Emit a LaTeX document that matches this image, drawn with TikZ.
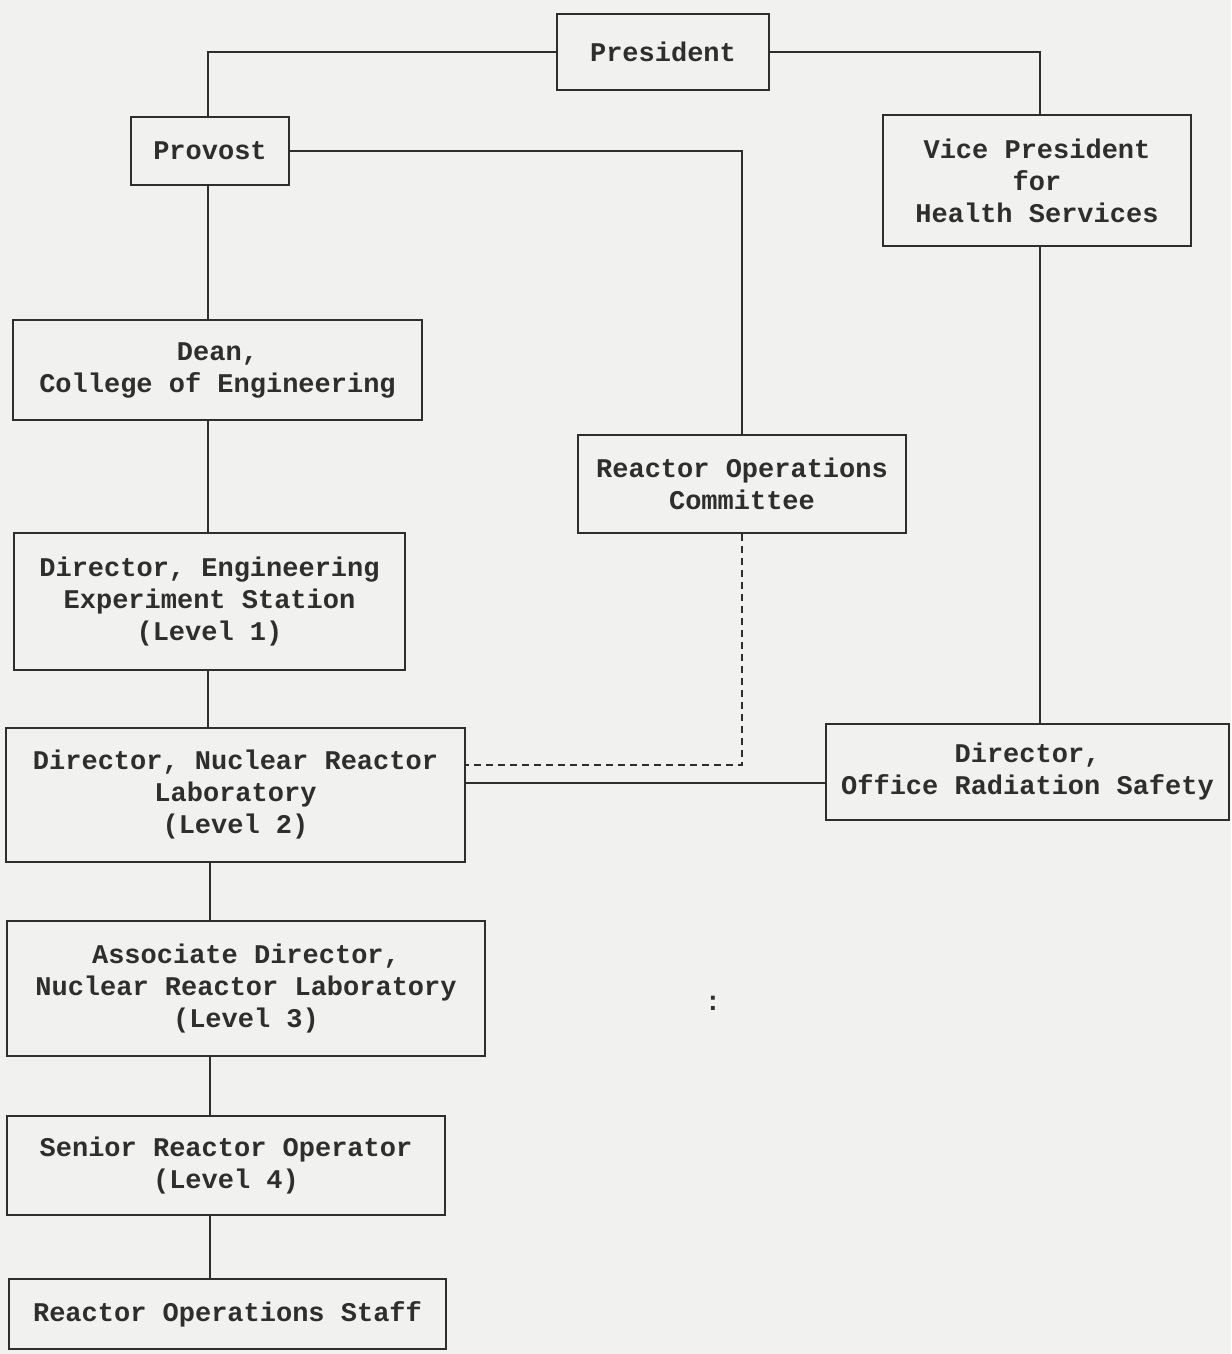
\documentclass[tikz,border=0pt]{standalone}
\usepackage{fontspec}
\setmonofont{Liberation Mono}
\definecolor{paper}{HTML}{F1F1EF}
\definecolor{ink}{HTML}{2E2E2E}
\begin{document}
\begin{tikzpicture}[x=1pt,y=-1pt,
  box/.style={draw=ink, line width=2.7pt, rectangle, align=center, text=ink,
    font=\ttfamily\bfseries\fontsize{27}{32}\selectfont, inner sep=0pt},
  link/.style={draw=ink, line width=2.7pt},
  dotlink/.style={draw=ink, line width=2.7pt, dash pattern=on 7pt off 5pt}]
\fill[paper] (0,0) rectangle (1231,1354);
\useasboundingbox (0,0) rectangle (1231,1354);

\node[box, minimum width=212pt, minimum height=76pt] (pres) at (663,52) {President};
\node[box, minimum width=158pt, minimum height=68pt] (prov) at (210,151) {Provost};
\node[box, minimum width=308pt, minimum height=131pt] (vp) at (1037,180.5) {Vice President\\for\\Health Services};
\node[box, minimum width=409pt, minimum height=100pt] (dean) at (217.5,370) {Dean,\\College of Engineering};
\node[box, minimum width=328pt, minimum height=98pt] (roc) at (742,484) {Reactor Operations\\Committee};
\node[box, minimum width=391pt, minimum height=137pt] (ees) at (209.5,601.5) {Director, Engineering\\Experiment Station\\(Level 1)};
\node[box, minimum width=459pt, minimum height=134pt] (dnrl) at (235.5,795) {Director, Nuclear Reactor\\Laboratory\\(Level 2)};
\node[box, minimum width=403pt, minimum height=96pt] (ors) at (1027.5,772) {Director,\\Office Radiation Safety};
\node[box, minimum width=478pt, minimum height=135pt] (assoc) at (246,988.5) {Associate Director,\\Nuclear Reactor Laboratory\\(Level 3)};
\node[box, minimum width=438pt, minimum height=99pt] (sro) at (226,1165.5) {Senior Reactor Operator\\(Level 4)};
\node[box, minimum width=437pt, minimum height=70pt] (ros) at (227.5,1314) {Reactor Operations Staff};
\node[text=ink, font=\ttfamily\bfseries\fontsize{27}{32}\selectfont] (colon) at (713,1003) {:};

\coordinate (lx) at (208,0);
\coordinate (lx2) at (210,0);
\coordinate (rx) at (1040,0);

\draw[link] (pres.west) -| (prov.north -| lx);
\draw[link] (pres.east) -| (vp.north -| rx);
\draw[link] (prov.east) -| (roc.north);
\draw[link] (prov.south -| lx) -- (dean.north -| lx);
\draw[link] (dean.south -| lx) -- (ees.north -| lx);
\draw[link] (ees.south -| lx) -- (dnrl.north -| lx);
\draw[link] (dnrl.south -| lx2) -- (assoc.north -| lx2);
\draw[link] (assoc.south -| lx2) -- (sro.north -| lx2);
\draw[link] (sro.south -| lx2) -- (ros.north -| lx2);
\draw[link] (vp.south -| rx) -- (ors.north -| rx);
\draw[link] (dnrl.east |- 0,783) -- (ors.west |- 0,783);
\draw[dotlink] (roc.south) -- (roc.south |- 0,765) -- (dnrl.east |- 0,765);
\end{tikzpicture}
\end{document}
